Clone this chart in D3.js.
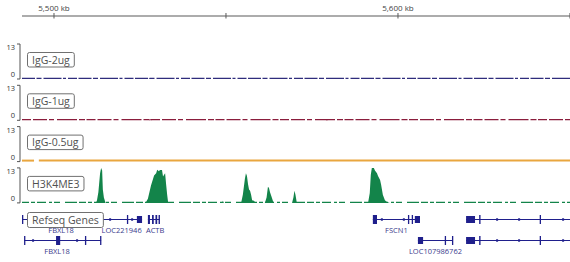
<!DOCTYPE html>
<html>
<head>
<meta charset="utf-8">
<script src="https://cdn.jsdelivr.net/npm/d3@7"></script>
<style>
  body { margin: 0; background: #fff; }
  svg { display: block; font-family: "Open Sans", "Noto Sans", sans-serif; }
</style>
</head>
<body>
<svg id="chart" width="570" height="262"></svg>
<script>
// ---- data (positions in kb) ----
const viewRange = [5490.7, 5650.3];
const tickValues = [5500, 5550, 5600, 5650];
const tickLabels = { 5500: "5,500 kb", 5600: "5,600 kb" };

const trackNames = ["IgG-2ug", "IgG-1ug", "IgG-0.5ug", "H3K4ME3"];
const trackColors = ["#2f2c7c", "#8a1d3c", "#e9a63f", "#13844a"];
const trackMax = 13;

// sparse signal points [kb, value]; everything else is ~0
const igg2Signal = [[5500.0, 0], [5500.3, 0.4], [5500.6, 0], [5527.5, 0], [5527.8, 0.3], [5528.1, 0]];
const igg1Signal = [[5527.6, 0], [5528.0, 0.5], [5528.4, 0], [5579.0, 0], [5579.3, 0.3], [5579.6, 0]];
const igg05Signal = [];
const h3k4Signal = [
  // peak near 5,513.7 kb
  [5512.2, 0], [5512.5, 1], [5512.9, 4], [5513.4, 11], [5513.7, 13], [5514.0, 12], [5514.2, 5], [5514.5, 2], [5515.0, 0],
  // broad peak near 5,530 kb
  [5526.6, 0], [5527.3, 1.5], [5528.2, 6.5], [5529.1, 10.2], [5529.7, 11], [5530.0, 12.3], [5530.5, 11.8],
  [5530.8, 12.2], [5531.4, 12.2], [5531.7, 9.8], [5532.3, 11], [5532.6, 6.8], [5532.9, 3], [5533.2, 0],
  // small bump
  [5548.9, 0], [5549.1, 0.8], [5549.4, 0],
  // peaks near 5,556 kb
  [5554.4, 0], [5554.9, 3], [5555.5, 9], [5555.8, 11], [5556.1, 10], [5556.4, 7], [5556.7, 5], [5557.0, 4.5],
  [5557.3, 3], [5557.6, 1], [5558.1, 0.8], [5558.7, 0],
  [5561.3, 0], [5561.8, 2], [5562.2, 6], [5562.5, 5.5], [5562.8, 4], [5563.2, 2.5], [5563.7, 0.5], [5564.0, 0],
  [5569.2, 0], [5569.6, 2], [5569.9, 4.5], [5570.2, 3], [5570.6, 0],
  // tall peak near 5,593 kb
  [5591.3, 0], [5591.8, 3.7], [5592.1, 10.5], [5592.4, 13], [5593.0, 13], [5593.3, 12], [5593.9, 11], [5594.2, 10],
  [5594.8, 8.5], [5595.1, 6.7], [5595.6, 3], [5596.2, 1], [5596.8, 0.3], [5597.6, 0]
];
const trackSignals = [igg2Signal, igg1Signal, igg05Signal, h3k4Signal];
// coverage stretches for the light orange track (only one gap)
const igg05Covered = [[5490.7, 5494.2], [5495.6, 5650.3]];

const genes = [
  { name: "FBXL18", row: 0, start: 5490.7, end: 5513.4,
    exons: [[5490.7, 5491.0], [5500.6, 5501.7], [5509.0, 5509.3], [5513.1, 5513.4]] },
  { name: "LOC221946", row: 0, start: 5513.7, end: 5525.6,
    exons: [[5513.7, 5514.0], [5521.2, 5521.5], [5524.1, 5525.6]] },
  { name: "ACTB", row: 0, start: 5527.3, end: 5530.8, labelAt: 5529.4,
    exons: [[5527.3, 5527.9], [5528.5, 5529.0], [5529.5, 5530.0], [5530.4, 5530.8]] },
  { name: "FSCN1", row: 0, start: 5592.7, end: 5606.4,
    exons: [[5592.7, 5593.9], [5602.9, 5603.2], [5604.0, 5604.3], [5604.9, 5606.4]] },
  { name: "", row: 0, start: 5619.8, end: 5660,
    exons: [[5619.8, 5622.4], [5623.6, 5624.0], [5641.2, 5641.5]] },
  { name: "FBXL18", row: 1, start: 5491.3, end: 5513.7, labelAt: 5500.9,
    exons: [[5491.3, 5491.6], [5500.6, 5501.8], [5509.0, 5509.3], [5513.4, 5513.7]] },
  { name: "LOC107986762", row: 1, start: 5605.8, end: 5616.0,
    exons: [[5605.8, 5607.3], [5613.6, 5613.9], [5615.7, 5616.0]] },
  { name: "", row: 1, start: 5619.8, end: 5660,
    exons: [[5619.8, 5622.4], [5623.6, 5624.0], [5641.2, 5641.5]] }
];

// ---- layout ----
const svg = d3.select("#chart");
const x = d3.scaleLinear().domain(viewRange).range([22, 571]);
const trackTop = 44, trackH = 35, trackStep = 41.3;
const geneRows = [219.5, 240.5];
const geneColor = "#1f1f8c";

svg.append("defs").append("clipPath").attr("id", "view")
  .append("rect").attr("x", 21).attr("y", 0).attr("width", 549).attr("height", 262);

// top ruler
const axis = svg.append("g").attr("transform", "translate(0,16)");
axis.append("line").attr("x1", 22).attr("x2", 570).attr("stroke", "#5a5a5a").attr("stroke-width", 1.2);
axis.selectAll(".tk").data(tickValues).join("line").attr("class", "tk")
  .attr("x1", d => x(d)).attr("x2", d => x(d)).attr("y1", -3).attr("y2", 2.5)
  .attr("stroke", "#5a5a5a").attr("stroke-width", 1);
axis.selectAll(".tl").data(tickValues.filter(d => tickLabels[d])).join("text").attr("class", "tl")
  .attr("x", d => x(d)).attr("y", -5).attr("text-anchor", "middle")
  .attr("font-size", 8).attr("fill", "#444").text(d => tickLabels[d]);

// coverage tracks
const dashes = ["13,1.5,5,2,18,1.5,3,2,9,1.5", "9,2,14,2,5,3,20,2,6,1.5", null, "7,2,4,2,9,3,3,2,6,5,12,2"];

trackNames.forEach((name, i) => {
  const top = trackTop + i * trackStep, bottom = top + trackH;
  const y = d3.scaleLinear().domain([0, trackMax]).range([bottom, top]).clamp(true);
  const g = svg.append("g");

  // bracket and scale labels
  g.append("path").attr("d", `M17,${top}H20V${bottom}H17`).attr("fill", "none")
    .attr("stroke", "#555").attr("stroke-width", 1);
  g.append("text").attr("x", 15).attr("y", top + 6).attr("text-anchor", "end")
    .attr("font-size", 7.5).attr("fill", "#333").text(trackMax);
  g.append("text").attr("x", 15).attr("y", bottom - 2).attr("text-anchor", "end")
    .attr("font-size", 7.5).attr("fill", "#333").text(0);

  // baseline
  if (i === 2) {
    g.selectAll(".cov").data(igg05Covered).join("line").attr("class", "cov")
      .attr("x1", d => x(d[0])).attr("x2", d => x(d[1]))
      .attr("y1", y(0) - 1).attr("y2", y(0) - 1)
      .attr("stroke", trackColors[i]).attr("stroke-width", 2);
  } else {
    g.append("line").attr("x1", 22).attr("x2", 570)
      .attr("y1", y(0) - 0.6).attr("y2", y(0) - 0.6)
      .attr("stroke", trackColors[i]).attr("stroke-width", 1.3)
      .attr("stroke-dasharray", dashes[i]);
  }

  // signal
  const area = d3.area().x(d => x(d[0])).y0(y(0)).y1(d => y(d[1]));
  g.append("path").datum(trackSignals[i]).attr("d", area)
    .attr("fill", trackColors[i]).attr("clip-path", "url(#view)");

  // name box
  const lbl = g.append("g");
  const rect = lbl.append("rect").attr("x", 27.5).attr("y", top + 8.5).attr("height", 14.5)
    .attr("rx", 2).attr("fill", "#fff").attr("stroke", "#707070").attr("stroke-width", 1);
  const txt = lbl.append("text").attr("x", 32).attr("y", top + 19.6)
    .attr("font-size", 10.5).attr("fill", "#505050").text(name);
  rect.attr("width", txt.node().getComputedTextLength() + 9);
});

// gene track
const gg = svg.append("g").attr("clip-path", "url(#view)");
genes.forEach(gene => {
  const cy = geneRows[gene.row];
  const x0 = x(gene.start), x1 = x(gene.end);
  gg.append("line").attr("x1", x0).attr("x2", x1).attr("y1", cy).attr("y2", cy)
    .attr("stroke", geneColor).attr("stroke-width", 1);

  // strand marks along introns
  for (let p = x0 + 9; p < x1 - 5; p += 22) {
    const hit = gene.exons.some(e => p > x(e[0]) - 4 && p < x(e[1]) + 4);
    if (!hit) gg.append("rect").attr("x", p - 1).attr("y", cy - 1.2).attr("width", 2).attr("height", 2.4).attr("fill", geneColor);
  }

  gg.selectAll(null).data(gene.exons).join("rect")
    .attr("x", e => x(e[0]))
    .attr("width", e => Math.max(1.3, x(e[1]) - x(e[0])))
    .attr("y", e => (x(e[1]) - x(e[0]) > 5 ? cy - 3.5 : cy - 4.5))
    .attr("height", e => (x(e[1]) - x(e[0]) > 5 ? 7 : 9))
    .attr("fill", geneColor);

  if (gene.name) {
    const lx = gene.labelAt ? x(gene.labelAt) : (x0 + x1) / 2;
    gg.append("text").attr("x", lx).attr("y", cy + 13.5).attr("text-anchor", "middle")
      .attr("font-size", 7.5).attr("fill", "#3a3a8c").text(gene.name);
  }
});

// gene track name box
const gl = svg.append("g");
const grect = gl.append("rect").attr("x", 27.5).attr("y", 212.5).attr("height", 15)
  .attr("rx", 2).attr("fill", "#fff").attr("stroke", "#707070").attr("stroke-width", 1);
const gtxt = gl.append("text").attr("x", 32).attr("y", 223.8)
  .attr("font-size", 10.5).attr("fill", "#505050").text("Refseq Genes");
grect.attr("width", gtxt.node().getComputedTextLength() + 9);
</script>
</body>
</html>
